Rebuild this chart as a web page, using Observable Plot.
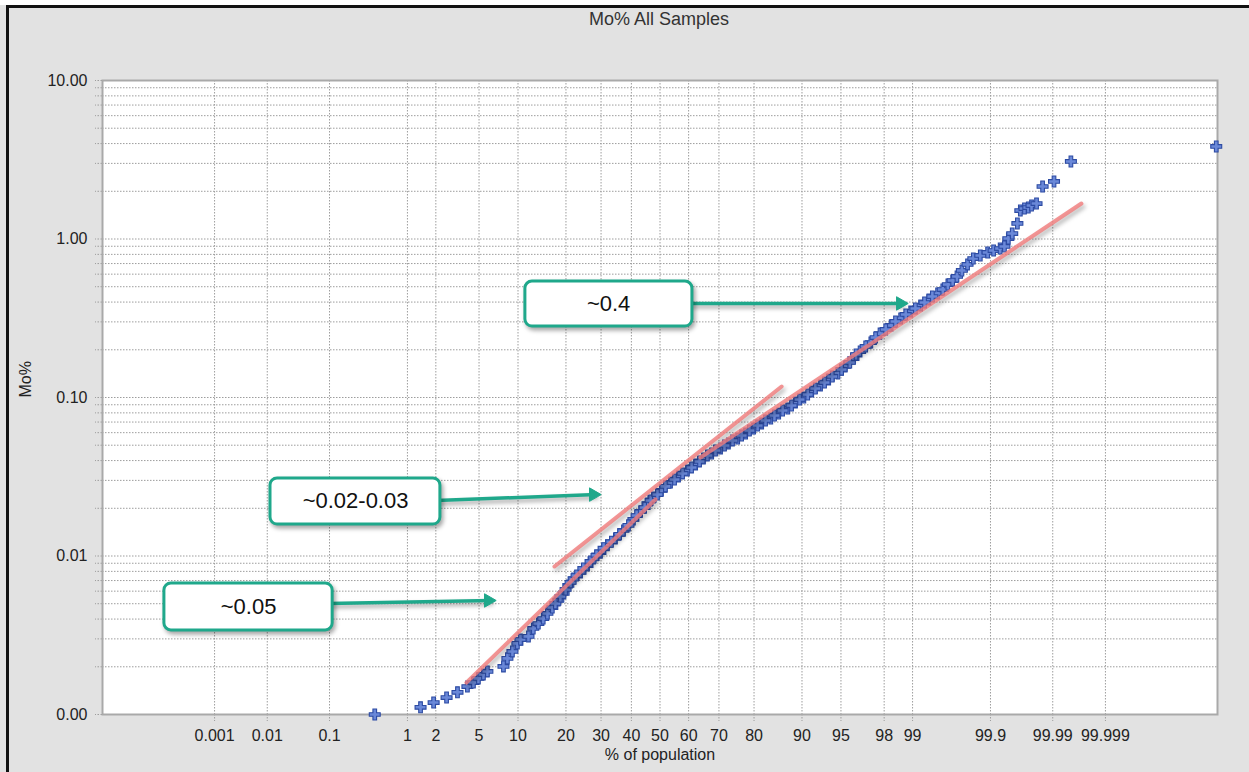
<!DOCTYPE html>
<html>
<head>
<meta charset="utf-8">
<script src="https://cdn.jsdelivr.net/npm/d3@7"></script>
<script src="https://cdn.jsdelivr.net/npm/@observablehq/plot@0.6"></script>
<style>
  html, body { margin: 0; padding: 0; }
  body { width: 1249px; height: 772px; background: #e2e2e2; position: relative; overflow: hidden;
         font-family: "Liberation Sans", Arial, sans-serif; }
  #topwhite { position: absolute; left: 0; top: 0; width: 1249px; height: 5px; background: #fff; }
  #edgeT { position: absolute; left: 6px; top: 5px; width: 1243px; height: 3px; background: #111; }
  #edgeL { position: absolute; left: 6px; top: 5px; width: 3px; height: 767px; background: #111; }
  #title { position: absolute; left: 0; top: 8px; width: 1318px; text-align: center;
           font-size: 18px; line-height: 22px; color: #333; }
  #chart { position: absolute; left: 0; top: 40px; }
</style>
</head>
<body>
<div id="topwhite"></div>
<div id="edgeT"></div>
<div id="edgeL"></div>
<div id="title">Mo% All Samples</div>
<div id="chart"></div>
<script>
// ---- data ----
// cumulative % of population for each plotted sample
const samplePct = [0.41, 1.39, 1.90, 2.55, 3.23, 3.97, 4.48, 4.94, 5.44, 5.86,
  7.83, 8.38, 9.12, 9.9, 10.4, 11.8, 12.7, 13.7, 14.7, 15.6,
  16.7, 18.1, 19.4, 20.6, 22.0, 23.9, 25.9, 27.7, 29.8, 32.0,
  34.6, 37.3, 40.7, 43.2, 45.6, 47.7,
  50.5, 53.7, 56.5, 59.6, 62.4, 65.0, 67.7, 70.5, 72.9, 75.6,
  77.8, 79.9, 81.9, 84.0, 85.7, 87.5, 88.9, 90.3, 91.5, 92.7,
  93.7, 94.7, 95.4, 96.1, 96.6, 97.3, 97.8, 98.3, 98.65, 98.95,
  99.19, 99.35, 99.49, 99.56, 99.62, 99.67, 99.71, 99.75, 99.79, 99.825,
  99.86, 99.89, 99.91, 99.928, 99.938, 99.946, 99.953, 99.961, 99.965, 99.970,
  99.974, 99.977, 99.981, 99.985, 99.9905, 99.9953, 99.9999976];
// Mo% value of each sample
const sampleMo = [0.00100, 0.00111, 0.00119, 0.00128, 0.00138, 0.00150, 0.00159, 0.00169, 0.00179, 0.00187,
  0.00201, 0.00226, 0.00250, 0.00281, 0.00297, 0.00311, 0.00349, 0.00375, 0.00403, 0.00434,
  0.00473, 0.00524, 0.00580, 0.00652, 0.00721, 0.00787, 0.00871, 0.00964, 0.0105, 0.0117,
  0.0129, 0.0145, 0.0170, 0.0191, 0.0214, 0.0234,
  0.0259, 0.0291, 0.0317, 0.0346, 0.0378, 0.0412, 0.0443, 0.0477, 0.0513, 0.0551,
  0.0593, 0.0637, 0.0686, 0.0737, 0.0793, 0.0852, 0.0930, 0.100, 0.109, 0.119,
  0.130, 0.142, 0.157, 0.176, 0.195, 0.222, 0.253, 0.285, 0.315, 0.349,
  0.381, 0.415, 0.453, 0.480, 0.516, 0.547, 0.580, 0.633, 0.691, 0.753,
  0.787, 0.822, 0.846, 0.871, 0.897, 1.007, 1.083, 1.253, 1.512, 1.557,
  1.580, 1.626, 1.674, 2.144, 2.306, 3.083, 3.834];
// further readings along the dense part of the band (17% – 99.4%)
const bandPct = [17.4, 18.6, 19.9, 21.2, 22.8, 24.7, 26.8, 28.6, 30.8, 33.3, 36.0,
  39.0, 41.8, 44.6, 46.7, 49.1, 51.9, 55.1, 57.9, 61.0, 63.7, 66.3, 68.9, 71.7, 74.1,
  76.7, 78.8, 80.9, 82.8, 84.8, 86.5, 88.2, 89.6, 90.9, 92.0, 93.2, 94.1, 95.06, 95.8,
  96.3, 96.98, 97.57, 98.07, 98.47, 98.81, 99.07, 99.27, 99.41];
const bandMo = [0.00502, 0.00555, 0.00615, 0.00681, 0.00753, 0.00834, 0.00924, 0.0101, 0.0112, 0.0123, 0.0137,
  0.0156, 0.0180, 0.0202, 0.0224, 0.0244, 0.0275, 0.0304, 0.0332, 0.0362, 0.0395, 0.0431, 0.0463, 0.0498, 0.0536,
  0.0576, 0.0619, 0.0666, 0.0716, 0.0770, 0.0828, 0.0890, 0.0971, 0.1045, 0.1139, 0.1243, 0.1357, 0.1502, 0.1663,
  0.1867, 0.2098, 0.2390, 0.2686, 0.3017, 0.3341, 0.3644, 0.3975, 0.4337];

// hand-drawn fit lines (start %, start Mo%, end %, end Mo%)
const fitName = ["lower", "middle", "upper"];
const fitP1 = [3.89, 17.2, 64.0];
const fitV1 = [0.00159, 0.00859, 0.04183];
const fitP2 = [48.4, 86.3, 99.99702];
const fitV2 = [0.02273, 0.1173, 1.674];

// callout boxes
const noteText = ["~0.4", "~0.02-0.03", "~0.05"];
const noteP1 = [11.25, 0.0114, 0.0000805];
const noteP2 = [61.3, 2.22, 0.111];
const noteVTop = [0.539, 0.03084, 0.00671];
const noteVBot = [0.2805, 0.0158, 0.00339];
const noteTextP = [32.4, 0.231, 0.00459];
const noteTextV = [0.392, 0.0221, 0.00480];
// callout arrows (from box edge to tip)
const arrowP1 = [61.3, 2.22, 0.111];
const arrowV1 = [0.392, 0.0224, 0.00502];
const arrowP2 = [98.86, 29.8, 6.79];
const arrowV2 = [0.392, 0.0244, 0.00524];

// axis ticks
const xTickPcts = [0.001, 0.01, 0.1, 1, 2, 5, 10, 20, 30, 40, 50, 60, 70, 80, 90, 95, 98, 99, 99.9, 99.99, 99.999];
const xTickLabels = ["0.001", "0.01", "0.1", "1", "2", "5", "10", "20", "30", "40", "50", "60", "70", "80", "90", "95", "98", "99", "99.9", "99.99", "99.999"];
const yTickVals = [0.001, 0.01, 0.1, 1, 10];
const yTickLabels = ["0.00", "0.01", "0.10", "1.00", "10.00"];
const yDecades = [0.001, 0.01, 0.1, 1];
const yMultiples = [1, 2, 3, 4, 5, 6, 7, 8, 9];

// ---- probability-paper scale transform ----
function probitLower(q) {
  const a = [-3.969683028665376e+01, 2.209460984245205e+02, -2.759285104469687e+02, 1.383577518672690e+02, -3.066479806614716e+01, 2.506628277459239e+00];
  const b = [-5.447609879822406e+01, 1.615858368580409e+02, -1.556989798598866e+02, 6.680131188771972e+01, -1.328068155288572e+01];
  const c = [-7.784894002430293e-03, -3.223964580411365e-01, -2.400758277161838e+00, -2.549732539343734e+00, 4.374664141464968e+00, 2.938163982698783e+00];
  const d = [7.784695709041462e-03, 3.224671290700398e-01, 2.445134137142996e+00, 3.754408661907416e+00];
  if (q < 0.02425) {
    const t = Math.sqrt(-2 * Math.log(q));
    return (((((c[0]*t+c[1])*t+c[2])*t+c[3])*t+c[4])*t+c[5]) / ((((d[0]*t+d[1])*t+d[2])*t+d[3])*t+1);
  }
  const t = q - 0.5, r = t * t;
  return (((((a[0]*r+a[1])*r+a[2])*r+a[3])*r+a[4])*r+a[5])*t / (((((b[0]*r+b[1])*r+b[2])*r+b[3])*r+b[4])*r+1);
}
function probitPct(pct) {
  return pct <= 50 ? probitLower(pct / 100) : -probitLower((100 - pct) / 100);
}
// the source software's probability axis is slightly compressed in the tails
function tx(pct) {
  const z = probitPct(pct);
  return z * (1.0507 - 0.0197 * Math.abs(z));
}

// ---- build tables ----
const samples = d3.range(Math.min(samplePct.length, sampleMo.length)).map(i => ({p: samplePct[i], v: sampleMo[i]}))
  .concat(d3.range(Math.min(bandPct.length, bandMo.length)).map(i => ({p: bandPct[i], v: bandMo[i]})));
const fits = fitName.map((name, i) => ({name, p1: fitP1[i], v1: fitV1[i], p2: fitP2[i], v2: fitV2[i]}));
const notes = noteText.map((t, i) => ({t, p1: noteP1[i], p2: noteP2[i], vt: noteVTop[i], vb: noteVBot[i], tp: noteTextP[i], tv: noteTextV[i]}));
const arrows = arrowP1.map((p, i) => ({p1: p, v1: arrowV1[i], p2: arrowP2[i], v2: arrowV2[i]}));
const yGridVals = yDecades.flatMap(dec => yMultiples.map(m => +(dec * m).toPrecision(6))).concat([10]);
const xTickPos = xTickPcts.map(tx);
const xLabelAt = new Map(xTickPos.map((x, i) => [x, xTickLabels[i]]));
const yLabelFor = v => {
  const i = yTickVals.findIndex(t => Math.abs(t - v) / t < 1e-6);
  return i >= 0 ? yTickLabels[i] : "";
};

const teal = "#1fa88b";
const gridColor = "#9d9d9d";
const fontFamily = "'Liberation Sans', Arial, sans-serif";

const chart = Plot.plot({
  width: 1249,
  height: 732,
  marginTop: 40,
  marginBottom: 58,
  marginLeft: 102,
  marginRight: 32,
  style: {background: "transparent", fontFamily, fontSize: "16px", color: "#222", overflow: "visible"},
  x: {type: "linear", domain: [-5.16, 5.16], label: null},
  y: {type: "log", domain: [0.001, 10], label: null},
  marks: [
    Plot.frame({fill: "white", stroke: null}),
    Plot.gridX(xTickPos, {stroke: gridColor, strokeOpacity: 1, strokeWidth: 1, strokeDasharray: "1.5,1.5"}),
    Plot.gridY(yGridVals, {stroke: gridColor, strokeOpacity: 1, strokeWidth: 1, strokeDasharray: "1.5,1.5"}),
    Plot.axisY(yGridVals, {tickSize: 7, tickPadding: 8, stroke: gridColor, strokeDasharray: "1.5,1.5",
      fill: "#222", fontSize: 16, tickFormat: yLabelFor, label: null}),
    Plot.axisX(xTickPos, {tickSize: 7, tickPadding: 8, stroke: gridColor, strokeDasharray: "1.5,1.5",
      fill: "#222", fontSize: 16, tickFormat: d => xLabelAt.get(d), label: null}),
    Plot.frame({stroke: "#a9a9a9", strokeWidth: 2}),
    Plot.dot(samples, {x: d => tx(d.p), y: "v", symbol: "cross", r: 4.6,
      fill: "#6a88d8", stroke: "#2d4ba3", strokeWidth: 1.1}),
    Plot.link(fits, {x1: d => tx(d.p1), y1: "v1", x2: d => tx(d.p2), y2: "v2",
      stroke: "#f07a7a", strokeOpacity: 0.8, strokeWidth: 4, strokeLinecap: "round"}),
    Plot.link(arrows, {x1: d => tx(d.p1), y1: "v1", x2: d => tx(d.p2), y2: "v2",
      stroke: teal, strokeWidth: 3.5, dx: -4}),
    Plot.dot(arrows, {x: d => tx(d.p2), y: "v2", symbol: "triangle", r: 5, rotate: 90, dx: -7,
      fill: teal, stroke: teal, strokeWidth: 1}),
    Plot.rect(notes, {x1: d => tx(d.p1), x2: d => tx(d.p2), y1: "vb", y2: "vt",
      fill: "white", stroke: teal, strokeWidth: 3, rx: 7}),
    Plot.text(notes, {x: d => tx(d.tp), y: "tv", text: "t", fontSize: 22, fill: "#111"}),
    Plot.text(["Mo%"], {frameAnchor: "left", dx: -77, rotate: -90, fontSize: 16, fill: "#222"}),
    Plot.text(["% of population"], {frameAnchor: "bottom", dy: 34, lineAnchor: "top", fontSize: 16, fill: "#222"})
  ]
});

// soft drop shadows like the pasted callouts
const shadow = "drop-shadow(2px 3px 2px rgba(0,0,0,0.35))";
chart.querySelectorAll('g[aria-label="link"], g[aria-label="rect"]').forEach(g => g.style.filter = shadow);
document.getElementById("chart").appendChild(chart);
</script>
</body>
</html>
